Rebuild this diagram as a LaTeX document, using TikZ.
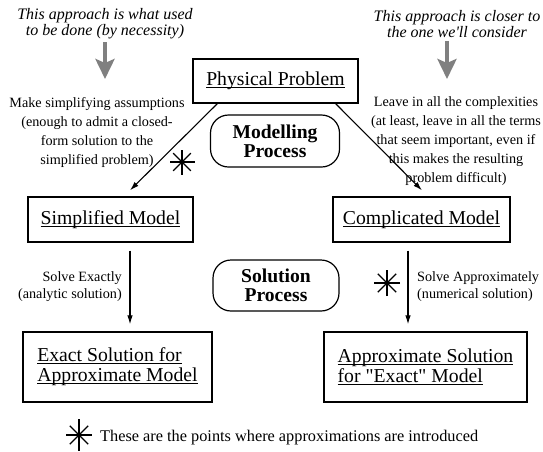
\documentclass[tikz,border=0pt]{standalone}
\usepackage{fontspec}
\setmainfont{Liberation Serif}
\newfontfamily\rawserif{Liberation Serif}
\usetikzlibrary{arrows.meta,calc}
\definecolor{arrowgray}{HTML}{808080}
\newcommand{\ulx}[1]{\setbox0\hbox{#1}\rlap{\rule[-2.2pt]{\wd0}{0.9pt}}\box0}
\newcommand{\sq}{{\rawserif"}}
\tikzset{
  boxnode/.style={draw,line width=1.3pt,inner sep=0pt,align=center,
    font=\fontsize{19.7}{20}\selectfont},
  procnode/.style={draw,line width=1.2pt,rounded corners=18pt,inner sep=0pt,align=center,
    font=\fontsize{19.6}{19}\selectfont\bfseries},
  annot/.style={inner sep=0pt,align=center,font=\fontsize{14.2}{19}\selectfont},
  toptext/.style={inner sep=0pt,align=center,font=\fontsize{16}{16}\selectfont\itshape},
  mainarrow/.style={line width=1.1pt,-{Latex[length=9pt,width=5.5pt]}},
  grayarrow/.style={line width=4pt,draw=arrowgray,-{Stealth[length=20pt,width=19pt,inset=4pt]}},
  starline/.style={line width=1.2pt,line cap=butt}
}
\begin{document}
\begin{tikzpicture}[x=1pt,y=-1pt]
\path[use as bounding box] (0,0) rectangle (543,451);

% top texts
\node[toptext] (LT) at (105,24) {This approach is what used\\to be done (by necessity)};
\node[toptext] (RT) at (457,24) {This approach is closer to\\the one we{\rawserif\itshape'}ll consider};
\coordinate (LGend) at (105,79);
\coordinate (RGend) at (447,79);
\draw[grayarrow,shorten <=3pt] (LT.south) -- (LGend);
\draw[grayarrow,shorten <=3pt] (RT.south -| RGend) -- (RGend);

% boxes
\node[boxnode,minimum width=165pt,minimum height=44pt] (PP) at (275.5,81) {\ulx{Physical Problem}};
\node[procnode,minimum width=129pt,minimum height=52pt] (MP) at (275,141) {Modelling\\Process};
\node[boxnode,minimum width=165pt,minimum height=45pt] (SM) at (110.5,219.5) {\ulx{Simplified Model}};
\node[boxnode,minimum width=177pt,minimum height=45pt] (CM) at (421.5,219.5) {\ulx{Complicated Model}};
\node[procnode,minimum width=126pt,minimum height=51pt] (SP) at (276,285.5) {Solution\\Process};
\node[boxnode,minimum width=189pt,minimum height=70pt,align=left] (ES) at (117.5,367) {\ulx{Exact Solution for}\\\ulx{Approximate Model}};
\node[boxnode,minimum width=203pt,minimum height=70pt,align=left] (AS) at (425.5,367) {\ulx{Approximate Solution}\\\ulx{for \sq Exact\sq\ Model}};

% annotations
\node[annot] (LA) at (97,133) {Make simplifying assumptions\\(enough to admit a closed-\\form solution to the\\simplified problem)};
\node[annot] (RA) at (456,141) {Leave in all the complexities\\(at least, leave in all the terms\\that seem important, even if\\this makes the resulting\\problem difficult)};
\node[annot,font=\fontsize{14.2}{17}\selectfont,align=right,anchor=east] (SE) at (122,287) {Solve Exactly\\(analytic solution)};
\node[annot,font=\fontsize{14.2}{17}\selectfont,align=left,anchor=west] (SA) at (417,287) {Solve Approximately\\(numerical solution)};

% arrows
\draw[mainarrow] ($(PP.south west)+(25,0)$) -- ($(SM.north)+(19.5,-6)$);
\draw[mainarrow] ($(PP.south east)+(-23,0)$) -- ($(CM.north)+(0.5,-6)$);
\draw[mainarrow] ($(SM.south)+(19.5,8)$) -- ($(ES.north)+(12.5,-7)$);
\draw[mainarrow] ($(CM.south)+(-13.5,8)$) -- ($(AS.north)+(-17.5,-7)$);

% stars
\foreach \a in {0,45,90,135} {
  \draw[starline] (182,162) +(\a:12.5) -- +(\a+180:12.5);
  \draw[starline] (387,283) +(\a:13) -- +(\a+180:13);
}
\draw[starline] (79,435) +(-13,0) -- +(13,0);
\draw[starline] (79,435) +(0,-16) -- +(0,16);
\draw[starline] (79,435) +(45:13) -- +(225:13);
\draw[starline] (79,435) +(135:13) -- +(315:13);

% legend
\node[inner sep=0pt,anchor=base west,font=\fontsize{16.3}{18}\selectfont] (LG) at (100,441) {These are the points where approximations are introduced};
\end{tikzpicture}
\end{document}
